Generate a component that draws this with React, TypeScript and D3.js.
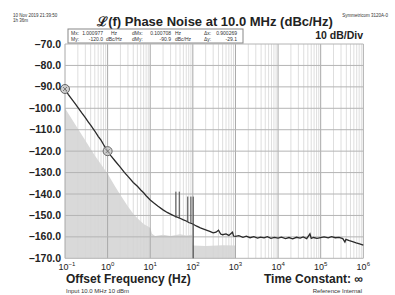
import React, { useRef, useEffect } from "react";
import * as d3 from "d3";

// decade exponents for the x axis ticks
const decades = [-1, 0, 1, 2, 3, 4, 5, 6];
const dbTicks = [-70, -80, -90, -100, -110, -120, -130, -140, -150, -160, -170];

// measured phase noise trace [offset Hz, dBc/Hz]
const tracePoints: [number, number][] = [
  [0.1, -91], [0.12, -93.6], [0.15, -96.2], [0.18, -98.3], [0.2, -99.6], [0.25, -102.3],
  [0.3, -104.4], [0.35, -106.3], [0.4, -107.9], [0.5, -110.6], [0.6, -113.1], [0.7, -114.9],
  [0.8, -116.9], [0.9, -118.6], [1.0, -120], [1.2, -122.2], [1.5, -124.6], [2, -127.6],
  [2.5, -130], [3, -131.8], [4, -134.6], [5, -136.4], [6, -138.1], [7, -139.4], [8, -140.8],
  [10, -142.8], [12, -144.1], [15, -145.6], [20, -147.4], [25, -148.6], [30, -149.4],
  [40, -150.6], [50, -151.3], [60, -152.1], [70, -152.6], [80, -153.3], [100, -154],
  [120, -154.9], [150, -155.8], [200, -156.7], [250, -157.4], [300, -158.1], [350, -157.8],
  [400, -156.9], [450, -158.7], [500, -159], [600, -158.6], [700, -159.3], [850, -157.8],
  [900, -159.6], [1000, -159.8],
  [1200, -159.4], [1500, -160.2], [1800, -159.7], [2200, -160.4], [2700, -159.9], [3300, -160.6],
  [3900, -160.1], [4700, -160.5], [5600, -159.9], [6800, -160.7], [8200, -160.2],
  [10000, -160.6], [12000, -160.1], [15000, -160.8], [18000, -160.3], [22000, -160.9],
  [27000, -160.2], [33000, -160.6], [39000, -160.0], [47000, -160.8], [56000, -158.6],
  [60000, -160.7], [68000, -160.3], [82000, -160.7],
  [100000, -160.3], [120000, -160.0], [150000, -160.5], [180000, -159.9], [220000, -160.4],
  [270000, -160.2], [330000, -160.8], [370000, -162.4], [390000, -161.2], [470000, -161.8],
  [560000, -162.2], [680000, -162.8], [820000, -163.3], [1000000, -163.8],
];

// grey reference floor [offset Hz, dBc/Hz]
const floorPoints: [number, number][] = [
  [0.1, -100], [0.5, -122], [1, -130.5], [1.5, -136.5], [2, -140.5], [3, -145.8], [4, -149.2],
  [5, -151.3], [7, -154], [10, -155.8], [11, -158.5], [13, -159.6], [20, -159], [30, -159.6],
  [50, -158.8], [70, -159.4], [95, -159], [100, -164], [200, -164.3], [500, -163.9],
  [1000, -164], [1000, -170],
];

// spurs [offset Hz, top dBc/Hz, bottom dBc/Hz]
const spurs: [number, number, number][] = [
  [40, -138.9, -151], [48, -138.9, -151.5], [76, -141.2, -153], [90, -141.2, -153.5], [102, -141.2, -170],
];

// markers [offset Hz, dBc/Hz]
const markers: [number, number][] = [[0.1, -91], [1.0, -120]];

const minorMult = [2, 3, 4, 5, 6, 7, 8, 9];

const font = "'Liberation Sans', Arial, sans-serif";

const App = () => {
  const svgRef = useRef(null);
  const width = 395;
  const height = 295;

  useEffect(() => {
    const svg = d3.select(svgRef.current);
    svg.selectAll("*").remove();

    const x = d3.scaleLog().domain([0.1, 1e6]).range([65, 363.3]);
    const y = d3.scaleLinear().domain([-170, -70]).range([258.3, 44]);

    // floor shading
    const area = d3.area<[number, number]>()
      .x(d => x(d[0]))
      .y0(y(-170))
      .y1(d => y(d[1]));
    svg.append("path")
      .attr("d", area(floorPoints))
      .attr("fill", "#d9d9d9");

    // grid
    const grid = svg.append("g").attr("class", "grid");
    decades.slice(0, -1).forEach(d => {
      minorMult.forEach(m => {
        const f = m * Math.pow(10, d);
        grid.append("line")
          .attr("x1", x(f)).attr("x2", x(f))
          .attr("y1", y(-70)).attr("y2", y(-170))
          .attr("stroke", "#d6d6d6").attr("stroke-width", 0.8);
      });
    });
    decades.forEach(d => {
      const f = Math.pow(10, d);
      grid.append("line")
        .attr("x1", x(f)).attr("x2", x(f))
        .attr("y1", y(-70)).attr("y2", y(-170))
        .attr("stroke", "#a8a8a8").attr("stroke-width", 1);
    });
    dbTicks.forEach(v => {
      grid.append("line")
        .attr("x1", x(0.1)).attr("x2", x(1e6))
        .attr("y1", y(v)).attr("y2", y(v))
        .attr("stroke", "#b4b4b4").attr("stroke-width", 1);
    });

    // trace
    const line = d3.line<[number, number]>()
      .x(d => x(d[0]))
      .y(d => y(d[1]));
    svg.append("path")
      .attr("d", line(tracePoints))
      .attr("fill", "none")
      .attr("stroke", "#2a2a2a")
      .attr("stroke-width", 1.3);

    spurs.forEach(s => {
      svg.append("line")
        .attr("x1", x(s[0])).attr("x2", x(s[0]))
        .attr("y1", y(s[1])).attr("y2", y(s[2]))
        .attr("stroke", "#444").attr("stroke-width", 1);
    });

    // markers
    markers.forEach(m => {
      const cx = x(m[0]);
      const cy = y(m[1]);
      svg.append("circle")
        .attr("cx", cx).attr("cy", cy).attr("r", 4.5)
        .attr("fill", "#c8c8c8").attr("fill-opacity", 0.8)
        .attr("stroke", "#666").attr("stroke-width", 1);
      svg.append("path")
        .attr("d", `M${cx - 2},${cy - 2}L${cx + 2},${cy + 2}M${cx - 2},${cy + 2}L${cx + 2},${cy - 2}`)
        .attr("stroke", "#666").attr("stroke-width", 0.8);
    });

    // y labels
    const yLab = svg.append("g");
    dbTicks.forEach(v => {
      yLab.append("text")
        .attr("x", 61).attr("y", y(v) + 3.5)
        .attr("text-anchor", "end")
        .attr("font-family", font).attr("font-weight", "bold").attr("font-size", "10.5px")
        .attr("fill", "#222")
        .text(`\u2013${Math.abs(v).toFixed(1)}`);
    });

    // x labels
    decades.forEach(d => {
      const t = svg.append("text")
        .attr("x", x(Math.pow(10, d)) + (d < 0 ? 2 : 0)).attr("y", 270)
        .attr("text-anchor", "middle")
        .attr("font-family", font).attr("font-size", "9px")
        .attr("fill", "#222");
      t.append("tspan").text("10");
      t.append("tspan").attr("dy", -4).attr("font-size", "6px").text(d < 0 ? `\u2212${-d}` : `${d}`);
    });

    // titles
    svg.append("text")
      .attr("x", 215).attr("y", 26)
      .attr("text-anchor", "middle")
      .attr("font-family", font).attr("font-weight", "bold").attr("font-size", "13px")
      .attr("fill", "#222")
      .text("\u2112(f) Phase Noise at 10.0 MHz (dBc/Hz)");
    svg.append("text")
      .attr("x", 363).attr("y", 39)
      .attr("text-anchor", "end")
      .attr("font-family", font).attr("font-weight", "bold").attr("font-size", "10.5px")
      .attr("fill", "#222")
      .text("10 dB/Div");

    const small = (tx: number, ty: number, s: string, anchor = "start", size = "4.5px") =>
      svg.append("text")
        .attr("x", tx).attr("y", ty)
        .attr("text-anchor", anchor)
        .attr("font-family", font).attr("font-size", size)
        .attr("fill", "#333")
        .text(s);
    small(13, 17, "10 Nov 2019 21:39:50");
    small(13, 22, "1h 36m");
    small(388, 17, "Symmetricom 3120A-0", "end");

    // marker readout box
    svg.append("rect")
      .attr("x", 68).attr("y", 29).attr("width", 175).attr("height", 14)
      .attr("fill", "white").attr("stroke", "#888").attr("stroke-width", 1);
    const bs = "5px";
    small(71, 35, "Mx:", "start", bs);
    small(103, 35, "1.000977", "end", bs);
    small(111, 35, "Hz", "start", bs);
    small(132, 35, "dMx:", "start", bs);
    small(171, 35, "0.100708", "end", bs);
    small(175, 35, "Hz", "start", bs);
    small(204, 35, "\u0394x:", "start", bs);
    small(237, 35, "0.900269", "end", bs);
    small(71, 41, "My:", "start", bs);
    small(103, 41, "-120.0", "end", bs);
    small(106, 41, "dBc/Hz", "start", bs);
    small(132, 41, "dMy:", "start", bs);
    small(171, 41, "-90.9", "end", bs);
    small(175, 41, "dBc/Hz", "start", bs);
    small(204, 41, "\u0394y:", "start", bs);
    small(237, 41, "-29.1", "end", bs);

    // footer
    svg.append("text")
      .attr("x", 66).attr("y", 283)
      .attr("font-family", font).attr("font-weight", "bold").attr("font-size", "12px")
      .attr("fill", "#222")
      .text("Offset Frequency (Hz)");
    svg.append("text")
      .attr("x", 363).attr("y", 283)
      .attr("text-anchor", "end")
      .attr("font-family", font).attr("font-weight", "bold").attr("font-size", "12px")
      .attr("fill", "#222")
      .text("Time Constant: \u221E");
    small(66, 293, "Input 10.0 MHz 10 dBm", "start", "6px");
    small(362, 293, "Reference Internal", "end", "6px");
  }, []);

  return (
    <div>
      <svg ref={svgRef} width={width} height={height}
        style={{ position: "absolute", left: 0, top: 0, background: "white" }} />
    </div>
  );
};

export default App;
